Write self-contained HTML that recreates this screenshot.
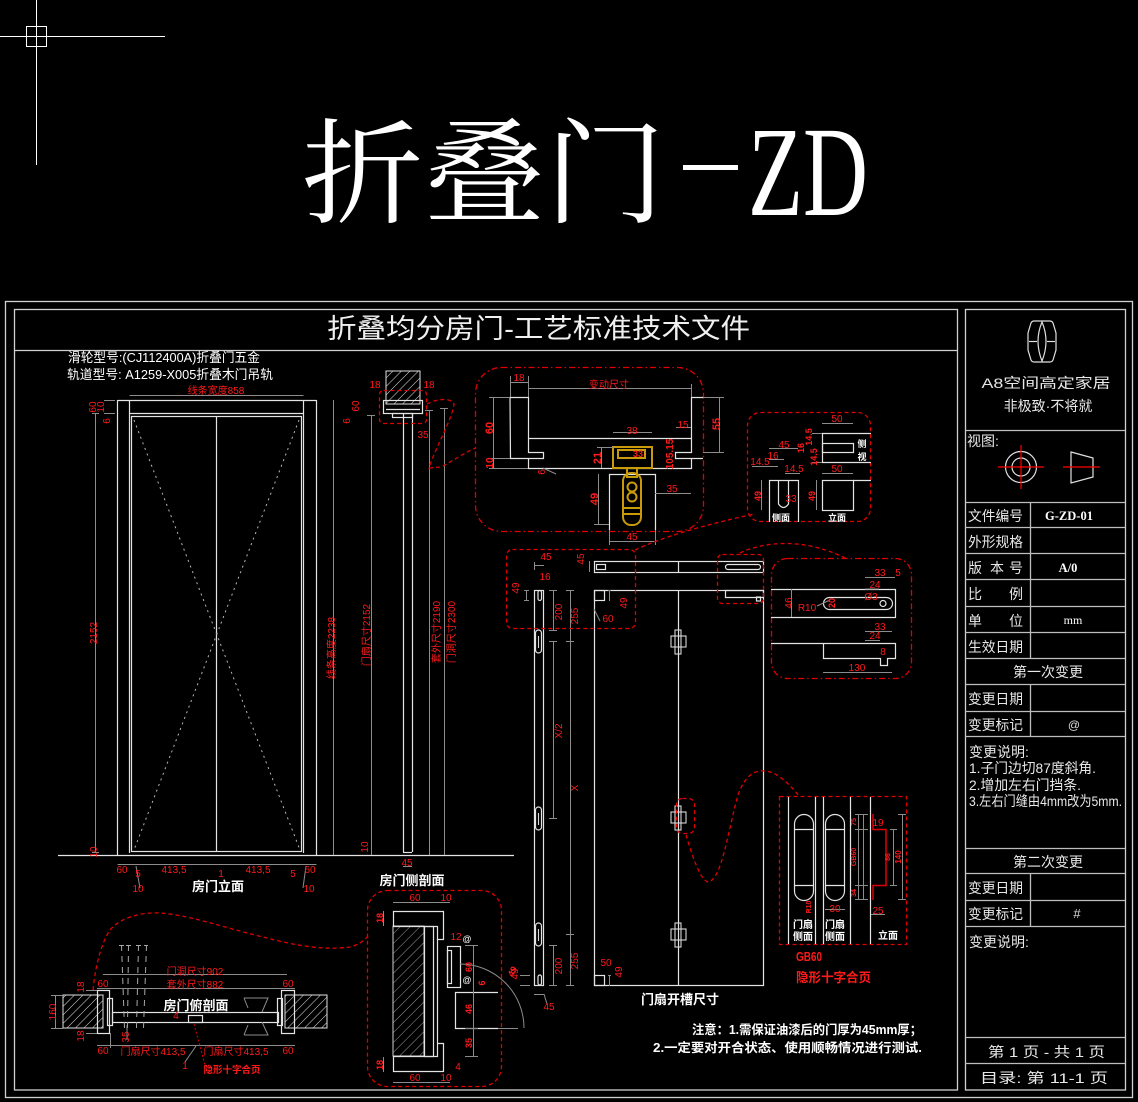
<!DOCTYPE html>
<html><head><meta charset="utf-8">
<style>
html,body{margin:0;padding:0;background:#000;}
svg{display:block;}
text{font-family:"Liberation Sans","Noto Sans CJK SC",sans-serif;}
.r{fill:#ff1a1a;font-size:10px;}
.rb{fill:#ff1a1a;font-weight:bold;}
.w{fill:#fff;}
.wb{fill:#fff;font-weight:bold;}
.p{fill:#e8e8e8;font-size:14px;}
.g{stroke:#8c8c8c;fill:none;stroke-width:1;}
.l{stroke:#e4e4e4;fill:none;stroke-width:1.2;}
.rd{stroke:#e00000;fill:none;stroke-width:1.3;stroke-dasharray:4 3;}
.rdd{stroke:#e00000;fill:none;stroke-width:1.3;stroke-dasharray:6 3 1.5 3;}
.gd{stroke:#b8b8b8;fill:none;stroke-width:1;stroke-dasharray:2 4;}
.au{stroke:#c89b0a;fill:none;stroke-width:2;}
</style></head><body>
<svg width="1138" height="1102" viewBox="0 0 1138 1102" xmlns="http://www.w3.org/2000/svg">
<defs>
<pattern id="h" width="6" height="6" patternUnits="userSpaceOnUse" patternTransform="rotate(45)">
<line x1="0" y1="0" x2="0" y2="6" stroke="#dcdcdc" stroke-width="1"/>
</pattern>
<pattern id="h2" width="7" height="7" patternUnits="userSpaceOnUse" patternTransform="rotate(45)">
<line x1="0" y1="0" x2="0" y2="7" stroke="#9a9a9a" stroke-width="1"/>
</pattern>
</defs>
<rect width="1138" height="1102" fill="#000"/>

<!-- crosshair -->
<g stroke="#fff" stroke-width="1" fill="none">
<line x1="36.5" y1="0" x2="36.5" y2="165"/>
<line x1="0" y1="36.5" x2="165" y2="36.5"/>
<rect x="26.5" y="26.5" width="20" height="20"/>
</g>

<!-- big title -->
<text x="302" y="214" font-size="114" fill="#fff" style="font-family:'Noto Serif CJK SC','Liberation Serif',serif" textLength="364" lengthAdjust="spacingAndGlyphs">折叠门</text>
<rect x="683" y="165" width="55" height="5" fill="#fff"/>
<text x="748" y="215" font-size="128" fill="#fff" style="font-family:'Liberation Serif',serif" textLength="120" lengthAdjust="spacingAndGlyphs">ZD</text>

<!-- frames -->
<g stroke="#d0d0d0" fill="none" stroke-width="1.3">
<rect x="5.5" y="301.5" width="1127" height="796"/>
<rect x="14.5" y="309.5" width="943" height="780.5"/>
<line x1="14.5" y1="350.5" x2="957.5" y2="350.5"/>
<rect x="965.5" y="309.5" width="160" height="780.5"/>
</g>
<g stroke="#bdbdbd" fill="none" stroke-width="1.3">
<line x1="965" y1="430.5" x2="1125" y2="430.5"/>
<line x1="965" y1="502.5" x2="1125" y2="502.5"/>
<line x1="965" y1="527.5" x2="1125" y2="527.5"/>
<line x1="965" y1="553.5" x2="1125" y2="553.5"/>
<line x1="965" y1="579.5" x2="1125" y2="579.5"/>
<line x1="965" y1="606.5" x2="1125" y2="606.5"/>
<line x1="965" y1="632.5" x2="1125" y2="632.5"/>
<line x1="965" y1="658.5" x2="1125" y2="658.5"/>
<line x1="965" y1="684.5" x2="1125" y2="684.5"/>
<line x1="965" y1="711.5" x2="1125" y2="711.5"/>
<line x1="965" y1="736.5" x2="1125" y2="736.5"/>
<line x1="965" y1="848.5" x2="1125" y2="848.5"/>
<line x1="965" y1="873.5" x2="1125" y2="873.5"/>
<line x1="965" y1="900.5" x2="1125" y2="900.5"/>
<line x1="965" y1="926.5" x2="1125" y2="926.5"/>
<line x1="965" y1="1037.5" x2="1125" y2="1037.5"/>
<line x1="965" y1="1063.5" x2="1125" y2="1063.5"/>
<line x1="1030.5" y1="502" x2="1030.5" y2="658"/>
<line x1="1030.5" y1="684" x2="1030.5" y2="736"/>
<line x1="1030.5" y1="873" x2="1030.5" y2="926"/>
</g>

<!-- sheet title -->
<text x="327" y="338" font-size="27" fill="#f0f0f0" textLength="423" lengthAdjust="spacingAndGlyphs">折叠均分房门-工艺标准技术文件</text>
<text x="68" y="362" font-size="13" class="w" textLength="192" lengthAdjust="spacingAndGlyphs">滑轮型号:(CJ112400A)折叠门五金</text>
<text x="67" y="379" font-size="13" class="w" textLength="206" lengthAdjust="spacingAndGlyphs">轨道型号: A1259-X005折叠木门吊轨</text>

<!-- ===== door elevation ===== -->
<g class="l">
<line x1="117.5" y1="400" x2="117.5" y2="855"/>
<line x1="316.5" y1="400" x2="316.5" y2="855"/>
<line x1="117.5" y1="400.5" x2="316.5" y2="400.5"/>
<line x1="129.5" y1="400" x2="129.5" y2="853"/>
<line x1="303.5" y1="400" x2="303.5" y2="853"/>
<line x1="129.5" y1="413.5" x2="303.5" y2="413.5"/>
<rect x="131.5" y="416.5" width="170" height="435"/>
<line x1="216.5" y1="416" x2="216.5" y2="852"/>
<line x1="58" y1="855.5" x2="514" y2="855.5"/>
</g>
<line class="gd" x1="134" y1="420" x2="300" y2="850"/>
<line class="gd" x1="299" y1="420" x2="134" y2="850"/>
<g class="g">
<line x1="95.5" y1="413" x2="95.5" y2="852"/>
<line x1="92" y1="413.5" x2="99" y2="413.5"/>
<line x1="92" y1="852.5" x2="99" y2="852.5"/>
<line x1="104" y1="400.5" x2="115" y2="400.5"/>
<line x1="104" y1="413.5" x2="115" y2="413.5"/>
<line x1="129.5" y1="395.5" x2="303.5" y2="395.5"/>
<line x1="117.5" y1="864.5" x2="316.5" y2="864.5"/>
<line x1="333.5" y1="400" x2="333.5" y2="855"/>
<line x1="371.5" y1="415" x2="371.5" y2="855"/>
<line x1="429.5" y1="410" x2="429.5" y2="855"/>
<line x1="444.5" y1="408" x2="444.5" y2="855"/>
<line x1="367" y1="415.5" x2="375" y2="415.5"/>
<line x1="425" y1="410.5" x2="433" y2="410.5"/>
<line x1="440" y1="408.5" x2="448" y2="408.5"/>
<line x1="403" y1="866.5" x2="412" y2="866.5"/>
<line x1="136" y1="866" x2="140" y2="888"/>
<line x1="306" y1="866" x2="303" y2="888"/>
</g>
<text class="r" font-size="11" transform="translate(97,633) rotate(-90)" text-anchor="middle">2152</text>
<text class="r" transform="translate(97,852) rotate(-90)" text-anchor="middle">10</text>
<text class="r" transform="translate(96,407) rotate(-90)" text-anchor="middle" font-size="9">60</text>
<text class="r" transform="translate(104,407) rotate(-90)" text-anchor="middle" font-size="9">10</text>
<text class="r" transform="translate(110,421) rotate(-90)" text-anchor="middle" font-size="9">6</text>
<text class="r" x="216" y="394" text-anchor="middle" font-size="11">线条宽度858</text>
<text class="r" x="122" y="873" text-anchor="middle" font-size="11">60</text>
<text class="r" x="138" y="877" text-anchor="middle" font-size="11">5</text>
<text class="r" x="138" y="892" text-anchor="middle" font-size="11">10</text>
<text class="r" x="174" y="873" text-anchor="middle" font-size="11">413,5</text>
<text class="r" x="221" y="877" text-anchor="middle" font-size="11">1</text>
<text class="r" x="258" y="873" text-anchor="middle" font-size="11">413,5</text>
<text class="r" x="293" y="877" text-anchor="middle" font-size="11">5</text>
<text class="r" x="310" y="873" text-anchor="middle" font-size="11">60</text>
<text class="r" x="309" y="892" text-anchor="middle" font-size="11">10</text>
<text class="wb" x="218" y="891" text-anchor="middle" font-size="13">房门立面</text>
<text class="r" font-size="12" transform="translate(335,648) rotate(-90)" text-anchor="middle">线条高度2238</text>
<text class="r" font-size="12" transform="translate(370,635) rotate(-90)" text-anchor="middle">门扇尺寸2152</text>
<text class="r" font-size="12" transform="translate(440,632) rotate(-90)" text-anchor="middle">套外尺寸2190</text>
<text class="r" font-size="12" transform="translate(455,632) rotate(-90)" text-anchor="middle">门洞尺寸2300</text>
<text class="r" font-size="10" transform="translate(368,847) rotate(-90)" text-anchor="middle">10</text>
<text class="r" x="407" y="866" text-anchor="middle" font-size="11">45</text>
<text class="wb" x="412" y="885" text-anchor="middle" font-size="13">房门侧剖面</text>

<!-- side section top -->
<rect x="386" y="371" width="34" height="33" fill="url(#h)" stroke="#e0e0e0"/>
<g class="l">
<rect x="383.5" y="400.5" width="39" height="13"/>
<line x1="386" y1="409.5" x2="420" y2="409.5"/>
<line x1="403.5" y1="413" x2="403.5" y2="852"/>
<line x1="412.5" y1="413" x2="412.5" y2="852"/>
<line x1="403" y1="852.5" x2="412" y2="852.5"/>
<rect x="392.5" y="413.5" width="20" height="4"/>
</g>
<rect class="rd" x="379.5" y="390.5" width="47" height="33" rx="4"/>
<text class="r" x="375" y="388" text-anchor="middle" font-size="11">18</text>
<text class="r" x="429" y="388" text-anchor="middle" font-size="11">18</text>
<text class="r" x="423" y="438" text-anchor="middle" font-size="11">35</text>
<text class="r" transform="translate(359,406) rotate(-90)" text-anchor="middle" font-size="10">60</text>
<text class="r" transform="translate(350,421) rotate(-90)" text-anchor="middle" font-size="9">6</text>
<path class="rd" d="M427,404 C436,399 450,397 454,404 C452,420 436,446 429,468 L441,467 C455,460 465,452 476,448"/>

<!-- ===== hardware detail box ===== -->
<rect class="rdd" x="475.5" y="367.5" width="228" height="164" rx="26"/>
<g class="l">
<path d="M510,397.5 H528.5 V452.5 H543.5 V458.5 H510.5 Z"/>
<line x1="528" y1="438.5" x2="691" y2="438.5"/>
<path d="M528.5,458 V468.5 H691.5 V458"/>
<path d="M703,397.5 H691.5 V452.5 H675.5 V458.5 H703"/>
<path d="M609.5,530 V474.5 H655.5 V530"/>
</g>
<g class="au">
<rect x="613" y="447" width="39" height="21"/>
<rect x="618" y="450" width="27" height="8"/>
<rect x="627" y="468" width="10" height="9"/>
<rect x="623" y="473" width="18" height="52" rx="8"/>
<circle cx="632" cy="487" r="4.5"/>
<circle cx="632" cy="497" r="4.5"/>
<line x1="624" y1="508" x2="640" y2="508"/>
<line x1="624" y1="514" x2="640" y2="514"/>
</g>
<g class="g">
<line x1="528" y1="388.5" x2="691" y2="388.5"/>
<line x1="510" y1="382.5" x2="528" y2="382.5"/>
<line x1="510.5" y1="376" x2="510.5" y2="397"/>
<line x1="528.5" y1="376" x2="528.5" y2="397"/>
<line x1="691.5" y1="384" x2="691.5" y2="397"/>
<line x1="493.5" y1="397" x2="493.5" y2="468"/>
<line x1="489" y1="397.5" x2="510" y2="397.5"/>
<line x1="489" y1="458.5" x2="510" y2="458.5"/>
<line x1="489" y1="468.5" x2="528" y2="468.5"/>
<line x1="613" y1="432.5" x2="652" y2="432.5"/>
<line x1="601.5" y1="447" x2="601.5" y2="468"/>
<line x1="597" y1="447.5" x2="613" y2="447.5"/>
<line x1="719.5" y1="397" x2="719.5" y2="453"/>
<line x1="703" y1="397.5" x2="724" y2="397.5"/>
<line x1="703" y1="452.5" x2="724" y2="452.5"/>
<line x1="676" y1="427.5" x2="691" y2="427.5"/>
<line x1="598.5" y1="474" x2="598.5" y2="524"/>
<line x1="594" y1="524.5" x2="609" y2="524.5"/>
<line x1="655" y1="493.5" x2="691" y2="493.5"/>
<line x1="609" y1="541.5" x2="655" y2="541.5"/>
<line x1="609.5" y1="530" x2="609.5" y2="545"/>
<line x1="655.5" y1="530" x2="655.5" y2="545"/>
<line x1="543" y1="468" x2="556" y2="474"/>
</g>
<text class="r" x="519" y="381" text-anchor="middle" font-size="11">18</text>
<text class="r" x="609" y="388" text-anchor="middle" font-size="12">变动尺寸</text>
<text class="rb" transform="translate(493,428) rotate(-90)" text-anchor="middle" font-size="11">60</text>
<text class="rb" transform="translate(493,463) rotate(-90)" text-anchor="middle" font-size="10">10</text>
<text class="r" x="632" y="434" text-anchor="middle" font-size="11">38</text>
<text class="rb" transform="translate(601,458) rotate(-90)" text-anchor="middle" font-size="11">21</text>
<text class="rb" x="638" y="457" text-anchor="middle" font-size="9">33</text>
<text class="rb" transform="translate(673,454) rotate(-90)" text-anchor="middle" font-size="10">105.15</text>
<text class="r" x="683" y="428" text-anchor="middle" font-size="11">15</text>
<text class="rb" transform="translate(720,424) rotate(-90)" text-anchor="middle" font-size="11">55</text>
<text class="r" transform="translate(545,472) rotate(-90)" text-anchor="middle" font-size="9">6</text>
<text class="rb" transform="translate(598,499) rotate(-90)" text-anchor="middle" font-size="11">49</text>
<text class="r" x="672" y="492" text-anchor="middle" font-size="11">35</text>
<text class="r" x="632" y="540" text-anchor="middle" font-size="11">45</text>

<!-- ===== small side/front box ===== -->
<rect class="rd" x="747.5" y="412.5" width="123" height="109" rx="13"/>
<g class="l">
<path d="M871,433.5 H822.5 V462.5 H871"/>
<rect x="822.5" y="443.5" width="31" height="9"/>
<path d="M769.5,522 V480.5 H798.5 V522"/>
<path d="M778.5,480 V504 Q783.5,511 788.5,504 V480"/>
<rect x="822.5" y="480.5" width="31" height="30"/>
<line x1="853" y1="480.5" x2="871" y2="480.5"/>
</g>
<g class="g">
<line x1="822" y1="423.5" x2="853" y2="423.5"/>
<line x1="822" y1="473.5" x2="853" y2="473.5"/>
<line x1="769" y1="448.5" x2="798" y2="448.5"/>
<line x1="769" y1="459.5" x2="784" y2="459.5"/>
<line x1="752" y1="466.5" x2="778" y2="466.5"/>
<line x1="785" y1="473.5" x2="800" y2="473.5"/>
<line x1="761.5" y1="480" x2="761.5" y2="510"/>
<line x1="816.5" y1="480" x2="816.5" y2="510"/>
<line x1="812" y1="433.5" x2="822" y2="433.5"/>
<line x1="812" y1="462.5" x2="822" y2="462.5"/>
</g>
<text class="r" x="837" y="422" text-anchor="middle" font-size="9">50</text>
<text class="r" x="837" y="472" text-anchor="middle" font-size="9">50</text>
<text class="r" x="784" y="448" text-anchor="middle" font-size="9">45</text>
<text class="r" x="773" y="459" text-anchor="middle" font-size="9">16</text>
<text class="r" x="760" y="465" text-anchor="middle" font-size="9">14.5</text>
<text class="r" x="794" y="472" text-anchor="middle" font-size="9">14.5</text>
<text class="rb" transform="translate(761,496) rotate(-90)" text-anchor="middle" font-size="9">49</text>
<text class="rb" transform="translate(815,496) rotate(-90)" text-anchor="middle" font-size="9">49</text>
<text class="r" x="791" y="502" text-anchor="middle" font-size="9">33</text>
<text class="rb" transform="translate(804,448) rotate(-90)" text-anchor="middle" font-size="9">16</text>
<text class="rb" transform="translate(812,437) rotate(-90)" text-anchor="middle" font-size="9">14.5</text>
<text class="rb" transform="translate(817,457) rotate(-90)" text-anchor="middle" font-size="9">14.5</text>
<text class="wb" x="862" y="447" text-anchor="middle" font-size="9">侧</text>
<text class="wb" x="862" y="460" text-anchor="middle" font-size="9">视</text>
<text class="wb" x="781" y="521" text-anchor="middle" font-size="9">侧面</text>
<text class="wb" x="837" y="521" text-anchor="middle" font-size="9">立面</text>

<!-- connectors between details -->
<path class="rd" d="M635,550 C660,538 700,526 754,514"/>
<path class="rd" d="M740,553 C765,541 805,538 845,558"/>

<!-- ===== folding leaf slot drawing ===== -->
<g class="l">
<rect x="594.5" y="561.5" width="169" height="11"/>
<line x1="678.5" y1="561" x2="678.5" y2="572"/>
<rect x="596.5" y="564.5" width="9" height="5"/>
<rect x="725.5" y="564.5" width="35" height="5" rx="2.5"/>
<path d="M725.5,590.5 H763.5 V597.5 H725.5 Z"/>
<rect x="756.5" y="597" width="4" height="4"/>
<rect x="534.5" y="590.5" width="9" height="395"/>
<rect x="538" y="590.5" width="3.5" height="10" rx="1.7"/>
<rect x="538" y="975" width="3.5" height="10" rx="1.7"/>
<rect x="535.5" y="630" width="6" height="23" rx="3"/>
<rect x="535.5" y="807" width="6" height="23" rx="3"/>
<rect x="535.5" y="923" width="6" height="23" rx="3"/>
<rect x="594.5" y="590.5" width="169" height="395"/>
<line x1="678.5" y1="590" x2="678.5" y2="986"/>
<rect x="594.5" y="590.5" width="10" height="10"/>
<rect x="594.5" y="975.5" width="10" height="10"/>
</g>
<g stroke="#d8d8d8" fill="none" stroke-width="1.1">
<rect x="675" y="630" width="6" height="24"/><rect x="671" y="636" width="15" height="11"/>
<rect x="675" y="806" width="6" height="24"/><rect x="671" y="812" width="15" height="11"/>
<rect x="675" y="923" width="6" height="24"/><rect x="671" y="929" width="15" height="11"/>
<line x1="538.5" y1="636" x2="538.5" y2="648"/>
<line x1="538.5" y1="813" x2="538.5" y2="825"/>
<line x1="538.5" y1="929" x2="538.5" y2="941"/>
</g>
<rect class="rd" x="676.5" y="798.5" width="18" height="35" rx="6"/>
<g class="g">
<line x1="553.5" y1="590" x2="553.5" y2="630"/>
<line x1="553.5" y1="641" x2="553.5" y2="818"/>
<line x1="553.5" y1="945" x2="553.5" y2="985"/>
<line x1="570.5" y1="590" x2="570.5" y2="985"/>
<line x1="549" y1="590.5" x2="557" y2="590.5"/>
<line x1="549" y1="630.5" x2="557" y2="630.5"/>
<line x1="549" y1="641.5" x2="557" y2="641.5"/>
<line x1="549" y1="818.5" x2="557" y2="818.5"/>
<line x1="549" y1="945.5" x2="557" y2="945.5"/>
<line x1="549" y1="985.5" x2="557" y2="985.5"/>
<line x1="566" y1="590.5" x2="574" y2="590.5"/>
<line x1="566" y1="641.5" x2="574" y2="641.5"/>
<line x1="566" y1="934.5" x2="574" y2="934.5"/>
<line x1="566" y1="985.5" x2="574" y2="985.5"/>
<line x1="534" y1="565.5" x2="544" y2="565.5"/>
<line x1="534.5" y1="562" x2="534.5" y2="570"/>
<line x1="524" y1="590.5" x2="529" y2="590.5"/>
<line x1="524" y1="600.5" x2="529" y2="600.5"/>
<line x1="526.5" y1="590" x2="526.5" y2="601"/>
<line x1="589.5" y1="561" x2="589.5" y2="572"/>
<line x1="608" y1="590.5" x2="611" y2="590.5"/>
<line x1="609.5" y1="590" x2="609.5" y2="601"/>
<line x1="594" y1="609" x2="600" y2="621"/>
<line x1="534" y1="994.5" x2="544" y2="994.5"/>
<line x1="544" y1="994" x2="547" y2="1004"/>
<line x1="608" y1="975.5" x2="611" y2="975.5"/>
<line x1="609.5" y1="975" x2="609.5" y2="986"/>
<line x1="520" y1="975.5" x2="530" y2="975.5"/>
<line x1="520" y1="985.5" x2="530" y2="985.5"/>
</g>
<rect class="rd" x="506.5" y="549.5" width="129" height="79" rx="6"/>
<rect class="rd" x="717.5" y="554.5" width="46" height="49" rx="5"/>
<text class="r" x="546" y="560" text-anchor="middle" font-size="11">45</text>
<text class="r" x="545" y="580" text-anchor="middle" font-size="11">16</text>
<text class="r" transform="translate(519,588) rotate(-90)" text-anchor="middle" font-size="11">49</text>
<text class="r" transform="translate(584,559) rotate(-90)" text-anchor="middle" font-size="11">45</text>
<text class="r" transform="translate(627,603) rotate(-90)" text-anchor="middle" font-size="11">49</text>
<text class="r" x="608" y="622" text-anchor="middle" font-size="11">60</text>
<text class="r" transform="translate(562,612) rotate(-90)" text-anchor="middle" font-size="11">200</text>
<text class="r" transform="translate(578,616) rotate(-90)" text-anchor="middle" font-size="11">255</text>
<text class="r" transform="translate(562,731) rotate(-90)" text-anchor="middle" font-size="11">X/2</text>
<text class="r" transform="translate(578,788) rotate(-90)" text-anchor="middle" font-size="11">X</text>
<text class="r" transform="translate(562,966) rotate(-90)" text-anchor="middle" font-size="11">200</text>
<text class="r" transform="translate(578,961) rotate(-90)" text-anchor="middle" font-size="11">255</text>
<text class="r" x="606" y="966" text-anchor="middle" font-size="11">50</text>
<text class="r" transform="translate(622,972) rotate(-90)" text-anchor="middle" font-size="10">49</text>
<text class="r" transform="translate(518,974) rotate(-90)" text-anchor="middle" font-size="10">49</text>
<text class="r" x="549" y="1010" text-anchor="middle" font-size="11">45</text>
<text class="wb" x="680" y="1004" text-anchor="middle" font-size="13">门扇开槽尺寸</text>

<!-- right plate detail -->
<rect class="rdd" x="771.5" y="558.5" width="140" height="120" rx="16"/>
<g class="l">
<path d="M771,589.5 H895.5 V617.5 H771"/>
<rect x="823.5" y="597.5" width="69" height="12" rx="6"/>
<circle cx="883" cy="603.5" r="3"/>
<path d="M771,643.5 H895.5 V658.5 H887.5 V665.5 H880.5 V658.5 H823.5 V643.5"/>
</g>
<g class="g">
<line x1="791.5" y1="589" x2="791.5" y2="617"/>
<line x1="823" y1="672.5" x2="892" y2="672.5"/>
<line x1="865" y1="577.5" x2="895" y2="577.5"/>
<line x1="865" y1="589" x2="879" y2="589"/>
<line x1="865" y1="631.5" x2="892" y2="631.5"/>
<line x1="865" y1="640.5" x2="880" y2="640.5"/>
<line x1="817" y1="606" x2="830" y2="600"/>
</g>
<text class="r" transform="translate(792,603) rotate(-90)" text-anchor="middle" font-size="9">46</text>
<text class="r" x="807" y="611" text-anchor="middle" font-size="9">R10</text>
<text class="rb" transform="translate(835,603) rotate(-90)" text-anchor="middle" font-size="9">20</text>
<text class="r" x="871" y="600" text-anchor="middle" font-size="8">Ø3</text>
<text class="r" x="880" y="576" text-anchor="middle" font-size="9">33</text>
<text class="r" x="898" y="576" text-anchor="middle" font-size="9">5</text>
<text class="r" x="875" y="588" text-anchor="middle" font-size="9">24</text>
<text class="r" x="880" y="630" text-anchor="middle" font-size="9">33</text>
<text class="r" x="875" y="639" text-anchor="middle" font-size="9">24</text>
<text class="r" x="883" y="655" text-anchor="middle" font-size="9">8</text>
<text class="r" x="857" y="671" text-anchor="middle" font-size="9">130</text>

<!-- wavy connector to hinge detail -->
<path class="rd" d="M686,835 C692,855 700,880 708,882 C722,880 728,830 738,795 C745,775 755,770 765,771 C778,772 790,785 800,797"/>

<!-- GB60 hinge box -->
<rect class="rd" x="779.5" y="796.5" width="127" height="148"/>
<g class="l">
<line x1="788.5" y1="797" x2="788.5" y2="944"/>
<line x1="815.5" y1="797" x2="815.5" y2="944"/>
<line x1="823.5" y1="797" x2="823.5" y2="944"/>
<line x1="850.5" y1="797" x2="850.5" y2="944"/>
<line x1="870.5" y1="797" x2="870.5" y2="944"/>
<rect x="794.5" y="814.5" width="19" height="86" rx="9.5"/>
<line x1="794.5" y1="829.5" x2="813.5" y2="829.5"/>
<line x1="794.5" y1="885.5" x2="813.5" y2="885.5"/>
<rect x="825.5" y="814.5" width="19" height="86" rx="9.5"/>
<line x1="825.5" y1="829.5" x2="844.5" y2="829.5"/>
<line x1="825.5" y1="885.5" x2="844.5" y2="885.5"/>
</g>
<path d="M873,814 V829.5 H886 V885.5 H873 V900" stroke="#e00000" stroke-width="1.5" fill="none"/>
<g class="g">
<line x1="893.5" y1="829" x2="893.5" y2="885"/>
<line x1="902.5" y1="814" x2="902.5" y2="900"/>
<line x1="858.5" y1="814" x2="858.5" y2="900"/>
<line x1="863.5" y1="814" x2="863.5" y2="900"/>
<line x1="855" y1="814.5" x2="868" y2="814.5"/>
<line x1="855" y1="829.5" x2="868" y2="829.5"/>
<line x1="855" y1="885.5" x2="868" y2="885.5"/>
<line x1="855" y1="899.5" x2="868" y2="899.5"/>
<line x1="825" y1="909.5" x2="845" y2="909.5"/>
<line x1="871" y1="914.5" x2="885" y2="914.5"/>
<line x1="890" y1="829.5" x2="897" y2="829.5"/>
<line x1="890" y1="885.5" x2="897" y2="885.5"/>
<line x1="898" y1="814.5" x2="906" y2="814.5"/>
<line x1="898" y1="899.5" x2="906" y2="899.5"/>
</g>
<text class="rb" transform="translate(856,822) rotate(-90)" text-anchor="middle" font-size="7">75</text>
<text class="rb" transform="translate(856,857) rotate(-90)" text-anchor="middle" font-size="7">GB60</text>
<text class="rb" transform="translate(856,893) rotate(-90)" text-anchor="middle" font-size="7">34</text>
<text class="rb" transform="translate(890,857) rotate(-90)" text-anchor="middle" font-size="7">86</text>
<text class="rb" transform="translate(901,857) rotate(-90)" text-anchor="middle" font-size="8">140</text>
<text class="rb" transform="translate(811,907) rotate(-90)" text-anchor="middle" font-size="7">R10</text>
<text class="r" x="878" y="826" text-anchor="middle" font-size="7">19</text>
<text class="r" x="835" y="912" text-anchor="middle" font-size="7" fill="#aaa">30</text>
<text class="r" x="878" y="914" text-anchor="middle" font-size="7">25</text>
<text class="wb" x="803" y="928" text-anchor="middle" font-size="10">门扇</text>
<text class="wb" x="803" y="940" text-anchor="middle" font-size="10">侧面</text>
<text class="wb" x="835" y="928" text-anchor="middle" font-size="10">门扇</text>
<text class="wb" x="835" y="940" text-anchor="middle" font-size="10">侧面</text>
<text class="wb" x="888" y="939" text-anchor="middle" font-size="10">立面</text>
<text class="rb" x="796" y="961" font-size="13" textLength="26" lengthAdjust="spacingAndGlyphs">GB60</text>
<text class="rb" x="796" y="982" font-size="13" textLength="75" lengthAdjust="spacingAndGlyphs">隐形十字合页</text>

<!-- notes -->
<text class="wb" x="692" y="1034" font-size="12.5" textLength="230" lengthAdjust="spacingAndGlyphs">注意：1.需保证油漆后的门厚为45mm厚；</text>
<text class="wb" x="653" y="1052" font-size="12.5" textLength="269" lengthAdjust="spacingAndGlyphs">2.一定要对开合状态、使用顺畅情况进行测试.</text>

<!-- ===== plan section (房门俯剖面) ===== -->
<rect x="63" y="995" width="40" height="33" fill="url(#h)" stroke="#e0e0e0"/>
<rect x="285" y="995" width="42" height="33" fill="url(#h)" stroke="#e0e0e0"/>
<g class="l">
<rect x="97.5" y="990.5" width="12" height="43"/>
<rect x="107.5" y="998.5" width="5" height="27"/>
<rect x="281.5" y="990.5" width="13" height="43"/>
<rect x="277.5" y="998.5" width="5" height="27"/>
<rect x="112.5" y="1012.5" width="166" height="10"/>
<rect x="188.5" y="1015.5" width="14" height="7"/>
</g>
<g stroke="#a8a8a8" fill="none" stroke-width="1" stroke-dasharray="6 5">
<line x1="121.5" y1="945" x2="124.5" y2="1028"/>
<line x1="128.5" y1="945" x2="127.5" y2="1028"/>
<line x1="138.5" y1="945" x2="136.5" y2="1028"/>
<line x1="146.5" y1="945" x2="143.5" y2="1028"/>
</g>
<g stroke="#a8a8a8" fill="none" stroke-width="1">
<line x1="119" y1="945.5" x2="124" y2="945.5"/>
<line x1="126" y1="945.5" x2="131" y2="945.5"/>
<line x1="136" y1="945.5" x2="141" y2="945.5"/>
<line x1="144" y1="945.5" x2="148" y2="945.5"/>
</g>
<path class="g" d="M244,998 H268 L262,1012 M244,998 L248,1008 M244,1035 H268 L262,1022 M244,1035 L248,1025"/>
<g class="g">
<line x1="103" y1="974.5" x2="287" y2="974.5"/>
<line x1="97" y1="988.5" x2="295" y2="988.5"/>
<line x1="97" y1="1045.5" x2="295" y2="1045.5"/>
<line x1="55.5" y1="995" x2="55.5" y2="1028"/>
<line x1="51" y1="995.5" x2="63" y2="995.5"/>
<line x1="51" y1="1028.5" x2="63" y2="1028.5"/>
<line x1="185" y1="1062" x2="196" y2="1046"/>
<line x1="86" y1="990.5" x2="97" y2="990.5"/>
<line x1="86" y1="1033.5" x2="97" y2="1033.5"/>
<line x1="110.5" y1="1033" x2="110.5" y2="1048"/>
<line x1="127" y1="1025" x2="127" y2="1040"/>
</g>
<text class="r" x="195" y="975" text-anchor="middle" font-size="12.5">门洞尺寸902</text>
<text class="r" x="195" y="988" text-anchor="middle" font-size="12.5">套外尺寸882</text>
<text class="r" x="103" y="987" text-anchor="middle" font-size="11">60</text>
<text class="r" x="288" y="987" text-anchor="middle" font-size="11">60</text>
<text class="r" transform="translate(84,987) rotate(-90)" text-anchor="middle" font-size="10">18</text>
<text class="r" transform="translate(56,1012) rotate(-90)" text-anchor="middle" font-size="10">160</text>
<text class="r" transform="translate(84,1036) rotate(-90)" text-anchor="middle" font-size="10">18</text>
<text class="r" transform="translate(129,1037) rotate(-90)" text-anchor="middle" font-size="10">35</text>
<text class="r" x="176" y="1019" text-anchor="middle" font-size="8">4</text>
<text class="r" x="103" y="1054" text-anchor="middle" font-size="11">60</text>
<text class="r" x="153" y="1055" text-anchor="middle" font-size="11.5">门扇尺寸413,5</text>
<text class="r" x="236" y="1055" text-anchor="middle" font-size="11.5">门扇尺寸413,5</text>
<text class="r" x="288" y="1054" text-anchor="middle" font-size="11">60</text>
<text class="r" x="185" y="1069" text-anchor="middle" font-size="10">1</text>
<text class="rb" x="232" y="1073" text-anchor="middle" font-size="9.5">隐形十字合页</text>
<line x1="194" y1="1024" x2="205" y2="1065" stroke="#e00000" stroke-dasharray="2 2"/>
<text class="wb" x="196" y="1010" text-anchor="middle" font-size="13">房门俯剖面</text>
<path class="rd" d="M93,990 C95,970 100,945 110,930 C120,918 140,912 160,913 C190,915 225,928 263,937 C290,944 320,951 350,947 C358,945 364,941 368,936"/>

<!-- ===== section detail ===== -->
<rect class="rd" x="367.5" y="890.5" width="134" height="196" rx="20"/>
<rect x="393" y="926" width="31" height="130" fill="url(#h2)" stroke="#d0d0d0"/>
<g class="l">
<path d="M393.5,911.5 H443.5 V939.5 H437.5 V926.5 H393.5 Z"/>
<path d="M393.5,1071.5 H443.5 V1043.5 H437.5 V1056.5 H393.5 Z"/>
<rect x="424.5" y="926.5" width="9" height="130"/>
<line x1="437.5" y1="939" x2="437.5" y2="1043"/>
<rect x="447.5" y="946.5" width="13" height="41"/>
<rect x="447.5" y="950.5" width="4" height="33"/>
<path d="M498,992.5 H455.5 V1028.5 H498"/>
</g>
<path class="g" d="M460,964 A64,64 0 0 1 524,1028"/>
<g class="g">
<line x1="393" y1="902.5" x2="450" y2="902.5"/>
<line x1="393" y1="1082.5" x2="450" y2="1082.5"/>
<line x1="383.5" y1="911" x2="383.5" y2="926"/>
<line x1="383.5" y1="1057" x2="383.5" y2="1072"/>
<line x1="473.5" y1="945" x2="473.5" y2="992"/>
<line x1="473.5" y1="992" x2="473.5" y2="1056"/>
<line x1="465" y1="945.5" x2="478" y2="945.5"/>
<line x1="465" y1="1028.5" x2="478" y2="1028.5"/>
<line x1="465" y1="1056.5" x2="478" y2="1056.5"/>
<line x1="498" y1="1028.5" x2="518" y2="1028.5"/>
</g>
<text class="r" x="415" y="901" text-anchor="middle" font-size="10">60</text>
<text class="r" x="446" y="901" text-anchor="middle" font-size="10">10</text>
<text class="rb" transform="translate(383,918) rotate(-90)" text-anchor="middle" font-size="9">18</text>
<text class="r" x="456" y="940" text-anchor="middle" font-size="10">12</text>
<text class="w" x="467" y="942" text-anchor="middle" font-size="9">@</text>
<text class="rb" transform="translate(472,967) rotate(-90)" text-anchor="middle" font-size="9">60</text>
<text class="w" x="467" y="983" text-anchor="middle" font-size="9">@</text>
<text class="rb" transform="translate(485,983) rotate(-90)" text-anchor="middle" font-size="9">6</text>
<text class="rb" transform="translate(472,1009) rotate(-90)" text-anchor="middle" font-size="9">46</text>
<text class="rb" transform="translate(472,1043) rotate(-90)" text-anchor="middle" font-size="9">35</text>
<text class="rb" transform="translate(383,1065) rotate(-90)" text-anchor="middle" font-size="9">18</text>
<text class="r" x="415" y="1081" text-anchor="middle" font-size="10">60</text>
<text class="r" x="446" y="1081" text-anchor="middle" font-size="10">10</text>
<text class="r" x="458" y="1070" text-anchor="middle" font-size="9">4</text>
<text class="rb" transform="translate(515,973) rotate(-60)" text-anchor="middle" font-size="9">49</text>

<!-- ===== right panel ===== -->
<g stroke="#e0e0e0" fill="none" stroke-width="1.2">
<path d="M1034,321 L1050,321 Q1052,321 1053,323 L1056,333 L1056,350 L1053,360 Q1052,362 1050,362 L1034,362 Q1032,362 1031,360 L1028,350 L1028,333 L1031,323 Q1032,321 1034,321 Z"/>
<path d="M1042,322 Q1034,341 1042,361 Q1050,341 1042,322 Z"/>
<line x1="1029" y1="341.5" x2="1037" y2="341.5"/>
<line x1="1047" y1="341.5" x2="1055" y2="341.5"/>
</g>
<text class="p" x="1046" y="388" text-anchor="middle" font-size="17" textLength="129" lengthAdjust="spacingAndGlyphs">A8空间高定家居</text>
<text class="p" x="1048" y="411" text-anchor="middle" font-size="14.5">非极致·不将就</text>
<text class="p" x="967" y="446">视图:</text>
<g fill="none" stroke="#e0e0e0" stroke-width="1.2">
<circle cx="1021" cy="467" r="15.5"/>
<circle cx="1021" cy="467" r="9"/>
<path d="M1071,452 L1093,458 L1093,477 L1071,483 Z"/>
</g>
<g stroke="#ff0000" stroke-width="1.2">
<line x1="998" y1="467" x2="1044" y2="467"/>
<line x1="1021" y1="445" x2="1021" y2="489"/>
<line x1="1063" y1="467" x2="1100" y2="467"/>
</g>
<text class="p" x="968" y="521" textLength="55" lengthAdjust="spacingAndGlyphs">文件编号</text>
<text x="1069" y="520" text-anchor="middle" font-size="12.5" font-weight="bold" fill="#fff" style="font-family:'Liberation Serif',serif">G-ZD-01</text>
<text class="p" x="968" y="547" textLength="55" lengthAdjust="spacingAndGlyphs">外形规格</text>
<text class="p" x="968" y="573">版</text><text class="p" x="990" y="573">本</text><text class="p" x="1009" y="573">号</text>
<text x="1068" y="572" text-anchor="middle" font-size="12.5" font-weight="bold" fill="#fff" style="font-family:'Liberation Serif',serif">A/0</text>
<text class="p" x="968" y="599">比</text><text class="p" x="1009" y="599">例</text>
<text class="p" x="968" y="626">单</text><text class="p" x="1009" y="626">位</text>
<text x="1073" y="624" text-anchor="middle" font-size="12" fill="#fff" style="font-family:'Liberation Serif',serif">mm</text>
<text class="p" x="968" y="652" textLength="55" lengthAdjust="spacingAndGlyphs">生效日期</text>
<text class="p" x="1048" y="677" text-anchor="middle">第一次变更</text>
<text class="p" x="968" y="704" textLength="55" lengthAdjust="spacingAndGlyphs">变更日期</text>
<text class="p" x="968" y="730" textLength="55" lengthAdjust="spacingAndGlyphs">变更标记</text>
<text x="1074" y="729" text-anchor="middle" font-size="12" fill="#ddd">@</text>
<text class="p" x="969" y="757">变更说明:</text>
<text class="p" x="969" y="773" font-size="13" textLength="127" lengthAdjust="spacingAndGlyphs">1.子门边切87度斜角.</text>
<text class="p" x="969" y="790" font-size="13" textLength="112" lengthAdjust="spacingAndGlyphs">2.增加左右门挡条.</text>
<text class="p" x="969" y="806" font-size="13" textLength="153" lengthAdjust="spacingAndGlyphs">3.左右门缝由4mm改为5mm.</text>
<text class="p" x="1048" y="867" text-anchor="middle">第二次变更</text>
<text class="p" x="968" y="893" textLength="55" lengthAdjust="spacingAndGlyphs">变更日期</text>
<text class="p" x="968" y="919" textLength="55" lengthAdjust="spacingAndGlyphs">变更标记</text>
<text x="1077" y="918" text-anchor="middle" font-size="13" fill="#ddd">#</text>
<text class="p" x="969" y="947">变更说明:</text>
<text class="p" x="988" y="1057" textLength="117" lengthAdjust="spacingAndGlyphs">第 1 页 - 共 1 页</text>
<text class="p" x="980" y="1083" textLength="128" lengthAdjust="spacingAndGlyphs">目录:  第  11-1 页</text>
</svg>
</body></html>
